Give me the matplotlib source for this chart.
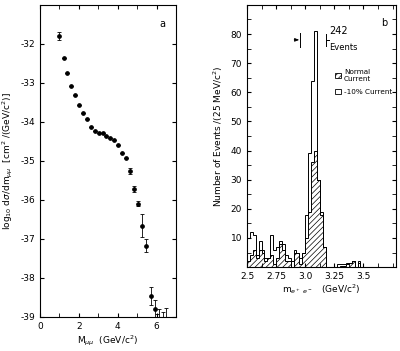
import matplotlib
matplotlib.use('Agg')
import matplotlib.pyplot as plt
import numpy as np
from matplotlib.patches import Patch
from matplotlib.ticker import MultipleLocator

plt.rcParams['axes.unicode_minus'] = False
plt.rcParams['hatch.linewidth'] = 0.5
plt.rcParams['font.family'] = 'DejaVu Sans'

# Panel a: dimuon cross section
m_mumu = [1.0, 1.21, 1.41, 1.60, 1.81, 2.03, 2.22, 2.41, 2.60, 2.84, 3.03, 3.22,
          3.41, 3.62, 3.81, 4.02, 4.22, 4.43, 4.64, 4.83, 5.03, 5.24, 5.47, 5.69, 5.90]
log_xsec = [-31.79, -32.37, -32.74, -33.07, -33.31, -33.57, -33.77, -33.92, -34.12,
            -34.24, -34.28, -34.29, -34.36, -34.40, -34.47, -34.59, -34.79, -34.93,
            -35.26, -35.72, -36.10, -36.66, -37.17, -38.46, -38.79]
xsec_err = [0.10, 0.0, 0.0, 0.0, 0.0, 0.0, 0.0, 0.0, 0.0, 0.0, 0.0, 0.0, 0.0, 0.0,
            0.0, 0.0, 0.0, 0.0, 0.08, 0.07, 0.06, 0.29, 0.17, 0.23, 0.22]
limit_m = [6.02, 6.14, 6.33, 6.50]
limit_val = [-38.92, -38.80, -38.87, -38.76]

# Panel b: e+e- mass spectrum, 25 MeV bins from 2.5 GeV
bin_lo = 2.5
bin_w = 0.025
open_counts = [10, 12, 11, 4, 9, 6, 3, 3, 11, 6, 7, 9, 8, 4, 3, 2, 6, 5, 3, 5,
               18, 39, 64, 81, 30, 19, 7, 0, 0, 0, 0, 1, 1, 1, 1.5, 1.5, 2, 0, 2, 0]
normal_counts = [2, 4, 6, 3, 6, 5, 2, 3, 4, 1, 3, 8, 6, 2, 2, 0, 5, 5, 1, 5,
                 10, 19, 36, 40, 30, 18, 7, 0, 0, 0, 0, 0, 0.5, 0.5, 1, 1.5, 2, 0, 1.5, 0]
total_events = 242

fig = plt.figure(figsize=(4.0, 3.51), dpi=100)

# ---- panel a
ax1 = fig.add_axes([0.10, 0.097, 0.34, 0.889])
ax1.errorbar(m_mumu, log_xsec, yerr=xsec_err, fmt='o', color='k', ms=2.4,
             elinewidth=0.6, capsize=1.2, capthick=0.6)
lim_err = [np.array(limit_val) + 39.2, np.zeros(len(limit_val))]
ax1.errorbar(limit_m, limit_val, yerr=lim_err, fmt='none', ecolor='k',
             elinewidth=0.6, capsize=1.5, capthick=0.6)
ax1.set_xlim(0, 7)
ax1.set_ylim(-39, -31)
ax1.xaxis.set_major_locator(MultipleLocator(2))
ax1.xaxis.set_minor_locator(MultipleLocator(1))
ax1.set_yticks(range(-39, -31))
ax1.tick_params(which='both', direction='in', top=True, right=True, labelsize=6.5, length=3)
ax1.set_xlabel(r'M$_{\mu\mu}$  (GeV/c$^2$)', fontsize=6.5, labelpad=2)
ax1.set_ylabel(r'log$_{10}$ d$\sigma$/dm$_{\mu\mu}$  [cm$^2$ /(GeV/c$^2$)]', fontsize=6.5)
ax1.text(0.88, 0.93, 'a', transform=ax1.transAxes, fontsize=7)

# ---- panel b
ax2 = fig.add_axes([0.6175, 0.239, 0.3725, 0.747])
edges = bin_lo + bin_w * np.arange(len(open_counts) + 1)
ax2.stairs(normal_counts, edges, fill=True, facecolor='white', edgecolor='k',
           hatch='//////', linewidth=0.7)
ax2.stairs(open_counts, edges, color='k', linewidth=0.7)
ax2.set_xlim(2.5, 3.78)
ax2.set_ylim(0, 90)
ax2.set_xticks([2.5, 2.75, 3.0, 3.25, 3.5])
ax2.set_xticklabels(['2.5', '2.75', '3.0', '3.25', '3.5'])
ax2.xaxis.set_minor_locator(MultipleLocator(0.125))
ax2.set_yticks(range(10, 90, 10))
ax2.yaxis.set_minor_locator(MultipleLocator(5))
ax2.tick_params(which='both', direction='in', top=True, right=True, labelsize=6.5, length=3)
ax2.set_xlabel(r'm$_{e^+\ e^-}$   (GeV/c$^2$)', fontsize=6.5, labelpad=1)
ax2.set_ylabel(r'Number of Events /(25 MeV/c$^2$)', fontsize=6.5)
ax2.text(0.9, 0.92, 'b', transform=ax2.transAxes, fontsize=7)

# resolution markers and total count
ax2.annotate('', xy=(2.948, 78), xytext=(2.905, 78),
             arrowprops=dict(arrowstyle='-|>,head_length=0.25,head_width=0.1',
                             color='k', lw=0.6, shrinkA=0, shrinkB=0))
ax2.plot([2.952, 2.952], [75.5, 80.5], color='k', lw=0.7)
ax2.plot([3.18, 3.18], [76, 80], color='k', lw=0.7)
ax2.plot([3.18, 3.205], [78, 78], color='k', lw=0.7)
ax2.text(3.203, 81, str(total_events), fontsize=7, va='center')
ax2.text(3.208, 75.5, 'Events', fontsize=6, va='center')

handles = [Patch(facecolor='white', edgecolor='k', hatch='//////', lw=0.6),
           Patch(facecolor='white', edgecolor='k', lw=0.6)]
ax2.legend(handles, ['Normal\nCurrent', '-10% Current'], loc='upper left',
           bbox_to_anchor=(0.55, 0.78), frameon=False, fontsize=5.2,
           handlelength=0.7, handleheight=0.7, handletextpad=0.5, labelspacing=0.9)

fig.savefig('out.png', dpi=100)
